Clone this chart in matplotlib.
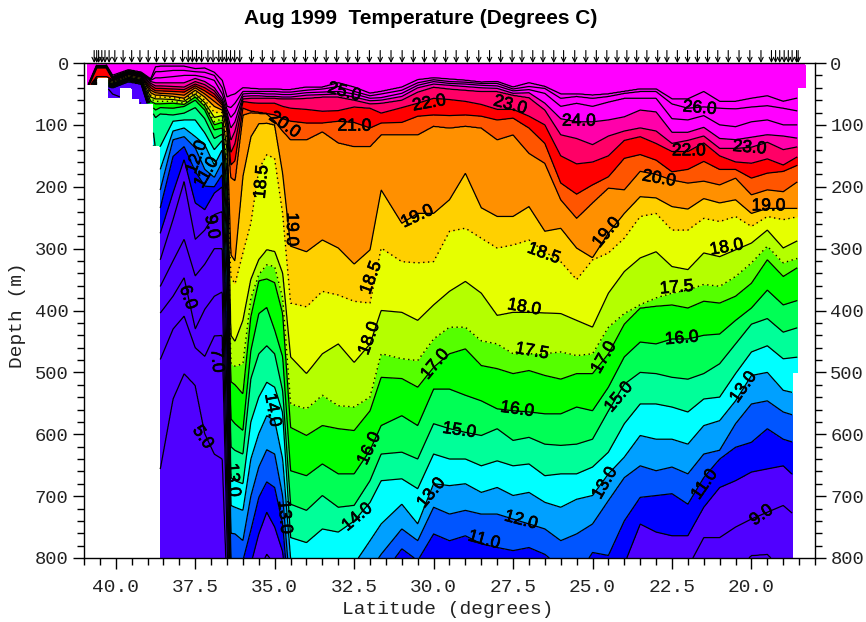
import numpy as np
import matplotlib
matplotlib.use("Agg")
import matplotlib.pyplot as plt
import matplotlib.patheffects as pe

# ==========================================
# Data: isotherm depth (m) per column of latitude
# ==========================================
col_lat = [40.9, 40.6, 40.3, 40.1, 39.6, 39.2, 38.9, 38.75, 38.6, 38.2, 37.85, 37.5, 37.2, 36.9, 36.65, 36.5, 36.38, 36.25,
           36.0, 35.75, 35.5, 35.25, 35.0, 34.75, 34.5, 34.0, 33.5, 33.0, 32.5, 32.0, 31.65, 31.0, 30.5,
           30.0, 29.5, 29.0, 28.5, 28.0, 27.5, 27.0, 26.5, 26.0, 25.5, 25.0, 24.5, 24.0, 23.5, 23.0,
           22.5, 22.0, 21.5, 21.0, 20.5, 20.0, 19.5, 19.0, 18.5]

iso_27 = [40, 3, 3, 20, 11, 15, 26, 6, 5, 5, 5, 9, 8, 15, 28, 55, 52, 50,
          40, 41, 42, 42, 42, 43, 43, 39, 39, 32, 39, 49, 46, 39, 27,
          24, 26, 28, 31, 30, 39, 32, 38, 50, 50, 52, 50, 46, 42, 42, 58, 58, 46, 62, 62, 57, 53, 62, 56]
iso_26 = [40, 4, 4, 22, 12, 16, 27, 14, 14, 12, 12, 14, 15, 20, 40, 70, 72, 65,
          46, 46, 46, 46, 46, 47, 47, 44, 42, 38, 46, 53, 50, 44, 32,
          27, 30, 31, 33, 33, 42, 38, 41, 57, 54, 57, 54, 49, 46, 46, 66, 73, 71, 73, 74, 71, 69, 73, 78]
iso_25 = [40, 5, 5, 23, 13, 17, 28, 24, 24, 22, 20, 20, 23, 28, 50, 75, 88, 80,
          50, 49, 49, 50, 50, 51, 51, 48, 47, 46, 50, 57, 56, 49, 36,
          30, 33, 34, 36, 37, 45, 43, 49, 70, 65, 70, 63, 57, 57, 57, 90, 92, 85, 100, 103, 95, 92, 100, 100]
iso_24 = [40, 6, 6, 24, 14, 18, 30, 32, 32, 32, 32, 25, 30, 40, 58, 80, 105, 95,
          54, 53, 53, 54, 54, 55, 55, 52, 51, 50, 55, 61, 60, 54, 40,
          34, 36, 38, 40, 41, 49, 48, 65, 90, 95, 95, 92, 87, 76, 79, 112, 112, 104, 122, 124, 120, 116, 118, 122]
iso_23 = [41, 7, 7, 25, 15, 19, 33, 37, 37, 38, 39, 30, 35, 45, 62, 85, 125, 110,
          58, 57, 57, 57, 57, 58, 58, 57, 55, 55, 60, 66, 65, 60, 47,
          39, 42, 44, 46, 46, 52, 56, 76, 116, 122, 132, 118, 110, 105, 110, 130, 125, 118, 138, 138, 136, 128, 140, 135]
iso_22 = [42, 8, 8, 26, 16, 20, 36, 41, 41, 42, 43, 34, 40, 50, 65, 90, 145, 130,
          62, 64, 65, 65, 65, 70, 73, 75, 78, 77, 71, 73, 81, 72, 65,
          57, 59, 62, 67, 75, 75, 86, 100, 150, 163, 160, 150, 125, 119, 130, 143, 143, 129, 150, 160, 162, 155, 165, 150]
iso_21 = [43, 22, 22, 27, 17, 21, 40, 45, 45, 46, 47, 37, 45, 55, 68, 95, 165, 158,
          73, 78, 80, 82, 84, 90, 94, 97, 97, 94, 96, 105, 97, 96, 86,
          84, 85, 84, 86, 92, 89, 105, 130, 194, 212, 197, 184, 154, 148, 157, 176, 172, 159, 172, 172, 186, 178, 175, 164]
iso_20 = [44, 24, 24, 28, 18, 22, 44, 48, 49, 50, 52, 40, 50, 62, 72, 100, 185, 190,
          84, 80, 81, 82, 94, 110, 124, 124, 111, 129, 135, 135, 116, 116, 116,
          102, 105, 102, 105, 124, 116, 146, 162, 221, 251, 226, 202, 205, 175, 180, 189, 194, 191, 197, 186, 213, 205, 208, 190]
iso_19 = [45, 26, 26, 29, 19, 23, 48, 52, 52, 54, 57, 44, 55, 70, 76, 110, 310, 320,
          183, 119, 98, 97, 100, 178, 296, 305, 286, 299, 325, 302, 205, 259, 243,
          243, 221, 178, 234, 248, 248, 232, 272, 267, 299, 315, 275, 243, 216, 218, 232, 236, 219, 226, 221, 243, 235, 235, 235]
iso_18_5 = [46, 27, 27, 30, 20, 24, 52, 55, 55, 56, 59, 47, 60, 80, 80, 125, 345, 357,
            307, 259, 172, 148, 154, 243, 388, 394, 369, 375, 385, 388, 299, 321, 323,
            321, 272, 267, 283, 299, 294, 286, 305, 321, 350, 318, 307, 283, 248, 243, 270, 270, 251, 256, 248, 264, 248, 253, 248]
iso_18 = [47, 28, 28, 31, 21, 25, 55, 58, 58, 59, 62, 50, 64, 88, 85, 140, 440, 450,
          416, 350, 318, 302, 305, 340, 475, 502, 470, 454, 484, 454, 400, 403, 416,
          391, 369, 353, 372, 408, 403, 403, 404, 405, 416, 427, 372, 337, 315, 305, 329, 334, 307, 313, 302, 291, 270, 299, 286]
iso_17_5 = [48, 29, 29, 32, 22, 26, 58, 62, 62, 62, 65, 52, 68, 95, 90, 160, 485, 490,
            486, 380, 342, 326, 329, 380, 551, 559, 537, 554, 556, 540, 470, 478, 481,
            446, 427, 427, 449, 454, 470, 470, 470, 467, 473, 470, 427, 405, 391, 380, 372, 367, 358, 361, 345, 323, 296, 323, 315]
iso_17 = [49, 30, 30, 33, 23, 27, 62, 66, 66, 65, 67, 55, 70, 100, 96, 180, 515, 520,
          535, 410, 352, 349, 355, 405, 589, 602, 586, 591, 594, 562, 508, 510, 524,
          492, 470, 462, 489, 494, 502, 497, 505, 511, 502, 502, 470, 422, 396, 393, 391, 396, 385, 388, 377, 356, 318, 345, 329]
iso_16 = [50, 31, 31, 34, 24, 28, 68, 76, 72, 73, 70, 60, 76, 108, 105, 210, 575, 583,
          594, 465, 405, 395, 432, 475, 659, 667, 648, 664, 664, 626, 586, 570, 586,
          527, 527, 537, 546, 559, 562, 564, 567, 567, 556, 562, 524, 475, 451, 454, 446, 446, 440, 438, 416, 396, 367, 391, 383]
iso_15 = [51, 32, 32, 35, 25, 29, 74, 88, 82, 84, 81, 72, 90, 122, 115, 240, 620, 626,
          632, 510, 470, 457, 470, 530, 713, 723, 699, 718, 715, 675, 632, 629, 640,
          583, 591, 597, 602, 591, 610, 605, 616, 618, 616, 608, 562, 519, 500, 502, 508, 511, 502, 486, 454, 422, 413, 435, 427]
iso_14 = [52, 33, 33, 36, 26, 30, 78, 140, 135, 94, 92, 92, 113, 140, 125, 270, 670, 675,
          680, 580, 540, 516, 524, 565, 767, 775, 753, 758, 740, 710, 675, 672, 688,
          632, 640, 640, 651, 643, 651, 648, 667, 664, 664, 653, 629, 583, 551, 551, 556, 564, 543, 540, 502, 467, 457, 478, 475]
iso_13 = [53, 34, 34, 37, 27, 31, 80, 175, 172, 110, 105, 119, 132, 165, 140, 300, 715, 718,
          723, 640, 599, 570, 578, 640, 800, 850, 840, 830, 810, 772, 745, 713, 745,
          680, 683, 680, 694, 686, 699, 694, 710, 718, 705, 699, 664, 637, 602, 608, 608, 616, 586, 578, 546, 505, 500, 529, 535]
iso_12 = [54, 35, 35, 38, 28, 32, 81, 215, 205, 124, 119, 137, 172, 185, 160, 340, 760, 761,
          772, 700, 653, 625, 632, 700, 860, 900, 890, 880, 860, 820, 794, 753, 772,
          718, 729, 723, 729, 729, 737, 745, 753, 772, 761, 745, 707, 670, 651, 659, 653, 664, 632, 626, 583, 551, 546, 564, 572]
iso_11 = [55, 36, 36, 39, 29, 33, 82, 240, 234, 151, 135, 175, 199, 200, 180, 400, 800, 800,
          804, 755, 702, 677, 686, 745, 900, 940, 930, 920, 910, 880, 830, 785, 804,
          761, 772, 764, 777, 783, 788, 783, 794, 815, 831, 791, 796, 740, 702, 699, 696, 713, 670, 640, 621, 613, 591, 608, 616]
iso_10 = [56, 37, 37, 40, 30, 34, 83, 280, 275, 210, 156, 226, 237, 210, 200, 470, 860, 860,
          840, 810, 761, 726, 750, 790, 920, 960, 950, 940, 930, 900, 860, 850, 860,
          850, 845, 840, 845, 850, 850, 850, 860, 870, 880, 850, 845, 810, 745, 758, 764, 764, 718, 686, 675, 661, 656, 651, 675]
iso_9 = [57, 38, 38, 50, 60, 65, 84, 320, 318, 253, 191, 285, 270, 245, 240, 540, 900, 900,
         880, 900, 820, 794, 810, 820, 950, 980, 970, 960, 950, 930, 900, 900, 900,
         920, 920, 920, 920, 920, 920, 920, 930, 930, 930, 920, 920, 900, 880, 860, 860, 815, 767, 767, 750, 737, 726, 715, 737]
iso_8 = [58, 39, 39, 90, 90, 90, 85, 365, 361, 320, 285, 344, 325, 300, 300, 620, 950, 950,
         920, 940, 880, 860, 870, 840, 980, 1000, 1000, 1000, 1000, 1000, 1000, 1000, 1000,
         980, 980, 980, 980, 980, 980, 980, 980, 980, 980, 980, 960, 950, 930, 920, 900, 880, 860, 850, 820, 796, 794, 820, 850]
iso_7 = [59, 40, 40, 100, 100, 100, 86, 405, 404, 377, 347, 430, 398, 377, 370, 700, 1000, 1000] + [1040] * 39
iso_6 = [60, 41, 41, 110, 110, 110, 87, 480, 479, 430, 409, 460, 474, 441, 440, 770, 1040, 1040] + [1080] * 39
iso_5 = [61, 42, 42, 120, 120, 120, 88, 660, 656, 543, 502, 521, 599, 632, 640, 850, 1080, 1080] + [1120] * 39

iso_temp = [27, 26, 25, 24, 23, 22, 21, 20, 19, 18.5, 18, 17.5, 17, 16, 15, 14, 13, 12, 11, 10, 9, 8, 7, 6, 5]

# Sampling limits of the section: bottom depth between latitude edges
data_edges = [40.91, 40.59, 40.25, 39.87, 39.49, 39.24, 38.83, 38.61, 18.71, 18.55, 18.30]
data_bottom = [35, 24, 55, 40, 57, 65, 134, 800, 500, 40]

# Station positions along the top axis
station_lat = [40.68, 40.60, 40.54, 40.44, 40.34, 40.21, 40.03, 39.77, 39.50, 39.24, 38.98, 38.72, 38.46, 38.20,
               37.90, 37.72, 37.59, 37.46, 37.30, 37.10, 36.94, 36.76, 36.65, 36.52, 36.39, 36.26, 36.10, 35.73,
               35.39, 35.06, 34.71, 34.37, 34.03, 33.72, 33.38, 33.05, 32.70, 32.39, 32.02, 31.68, 31.34, 30.99,
               30.64, 30.29, 29.96, 29.62, 29.29, 28.94, 28.58, 28.24, 27.89, 27.53, 27.22, 26.88, 26.56, 26.22,
               25.91, 25.56, 25.21, 24.88, 24.55, 24.23, 23.92, 23.61, 23.29, 22.95, 22.66, 22.33, 22.01, 21.70,
               21.38, 21.06, 20.73, 20.39, 20.05, 19.70, 19.37, 19.24, 19.11, 18.97, 18.84, 18.72, 18.58, 18.53]

# Contour labels
label_text = ["25.0", "22.0", "23.0", "24.0", "26.0", "22.0", "23.0", "20.0", "21.0", "20.0", "19.0", "19.0",
              "18.5", "19.0", "18.5", "19.0", "18.5", "18.0", "17.5", "18.0", "18.0", "17.0", "17.5", "17.0",
              "16.0", "16.0", "15.0", "15.0", "16.0", "14.0", "14.0", "13.0", "13.0", "13.0", "13.0", "12.0",
              "11.0", "11.0", "9.0", "6.0", "5.0", "12.0", "11.0", "9.0", "7.0", "13.0"]
label_lat = [32.81, 30.14, 27.59, 25.43, 21.63, 21.97, 20.06, 34.69, 32.49, 22.91, 19.46, 30.51,
             35.41, 34.47, 31.96, 24.55, 26.53, 20.78, 22.35, 32.02, 27.15, 29.95, 26.90, 24.64,
             22.19, 27.37, 29.19, 24.17, 32.02, 35.07, 32.40, 34.69, 30.07, 24.61, 20.25, 27.25,
             28.41, 21.47, 19.68, 37.73, 37.26, 37.45, 37.14, 36.98, 36.82, 36.32]
label_depth = [47, 65, 68, 94, 73, 142, 137, 100, 102, 187, 231, 248,
               192, 269, 347, 274, 308, 298, 363, 445, 395, 487, 466, 476,
               445, 560, 594, 540, 623, 561, 734, 734, 695, 679, 524, 739,
               771, 681, 731, 379, 605, 152, 177, 265, 481, 674]
label_rot = [-15, 10, -15, 0, -5, 0, -5, -35, 0, -10, 0, 25,
             85, -90, 70, 50, -20, 10, 5, 70, -10, 50, -10, 60,
             5, -8, -8, 50, 65, -80, 40, -85, 50, 60, 55, -15,
             -15, 55, 35, -70, -55, 70, 60, -80, -85, -85]

fill_levels = [0, 10, 11, 12, 13, 14, 15, 16, 17, 17.5, 18, 18.5, 19, 20, 21, 22, 23, 24, 40]
fill_colors = ["#5000ff", "#0000ff", "#0055ff", "#00a0ff", "#00ffff", "#00ff99", "#00ff55", "#00ff00", "#55ff00",
               "#b4ff00", "#e6ff00", "#ffd000", "#ff9000", "#ff5500", "#ff0000", "#ff0066", "#ff00aa", "#ff00ff"]

# ==========================================
# Build the temperature section from the isotherms
# ==========================================
iso_depth = np.array([iso_27, iso_26, iso_25, iso_24, iso_23, iso_22, iso_21, iso_20, iso_19, iso_18_5, iso_18,
                      iso_17_5, iso_17, iso_16, iso_15, iso_14, iso_13, iso_12, iso_11, iso_10, iso_9, iso_8,
                      iso_7, iso_6, iso_5], dtype=float)
asc_lat = np.array(col_lat)[::-1]
iso_depth = iso_depth[:, ::-1]

grid_lat = np.linspace(18.2, 41.0, 1400)
grid_depth = np.arange(0, 801, 1.0)
temps = np.array([29.0] + iso_temp + [3.0])

section = np.empty((grid_depth.size, grid_lat.size))
for j, lat in enumerate(grid_lat):
    depths = np.array([np.interp(lat, asc_lat, row) for row in iso_depth])
    depths = np.maximum.accumulate(depths) + 1e-3 * np.arange(depths.size)
    depths = np.concatenate([[-1.0], depths, [1300.0]])
    section[:, j] = np.interp(grid_depth, depths, temps)

# Blank out what was not sampled
edges = np.array(data_edges)
bottom = np.full(grid_lat.size, -1.0)
for k in range(len(data_bottom)):
    inside = (grid_lat <= edges[k]) & (grid_lat > edges[k + 1])
    bottom[inside] = data_bottom[k]
depth_mesh = grid_depth[:, None]
section = np.ma.masked_where((depth_mesh > bottom[None, :]) | (depth_mesh < 3), section)

# ==========================================
# Plot
# ==========================================
MONO = "Liberation Mono"
INK = "#222222"
fig = plt.figure(figsize=(8.66, 6.22), dpi=100)
ax = fig.add_axes([84 / 866, (622 - 558) / 622, (815 - 84) / 866, (558 - 63) / 622])

ax.contourf(grid_lat, grid_depth, section, levels=fill_levels, colors=fill_colors)
solid = [t for t in sorted(iso_temp) if t not in (17.5, 18.5)]
ax.contour(grid_lat, grid_depth, section, levels=solid, colors="black", linewidths=0.9, linestyles="solid")
ax.contour(grid_lat, grid_depth, section, levels=[17.5, 18.5], colors="black", linewidths=1.0, linestyles=[(0, (1, 2.5))])

for text, lat, depth, rot in zip(label_text, label_lat, label_depth, label_rot):
    ax.text(lat, depth, text, rotation=rot, rotation_mode="anchor", ha="center", va="center",
            fontsize=12.5, family="Liberation Sans", color="black", clip_on=True,
            path_effects=[pe.withStroke(linewidth=0.5, foreground="black")])

for lat in station_lat:
    ax.annotate("", xy=(lat, 0), xytext=(0, 9), textcoords="offset points", annotation_clip=False,
                arrowprops=dict(arrowstyle="->", lw=0.8, color="black", shrinkA=0, shrinkB=0, mutation_scale=8))

ax.set_xlim(41, 18)
ax.set_ylim(800, 0)
ax.set_xticks(np.arange(20, 41, 2.5))
ax.set_xticklabels(["%.1f" % v for v in np.arange(20, 41, 2.5)], family=MONO, fontsize=14, color=INK)
ax.set_xticks(np.arange(18, 41.01, 0.5), minor=True)
ax.set_yticks(np.arange(0, 801, 100))
ax.set_yticks(np.arange(0, 801, 20), minor=True)
ax.tick_params(axis="x", which="major", length=8, width=1, pad=7)
ax.tick_params(axis="x", which="minor", length=5, width=1)
ax.tick_params(axis="y", which="major", length=8, width=1, pad=3, left=True, right=True, labelleft=True, labelright=True)
ax.tick_params(axis="y", which="minor", length=5, width=1, left=True, right=True)
for label in ax.get_yticklabels():
    label.set_family(MONO)
    label.set_fontsize(13.5)
    label.set_color(INK)

for spine in ax.spines.values():
    spine.set_linewidth(1.0)

fig.text(448 / 866, 1 - 609 / 622, "Latitude (degrees)", family=MONO, fontsize=14, ha="center", va="center", color=INK)
fig.text(18 / 866, 1 - 315 / 622, "Depth (m)", family=MONO, fontsize=14, rotation=90, ha="center", va="center", color=INK)
fig.text(421 / 866, 1 - 19 / 622, "Aug 1999  Temperature (Degrees C)", family="Liberation Sans", fontsize=15,
         fontweight="bold", ha="center", va="center")

fig.savefig("out.png", dpi=100)
